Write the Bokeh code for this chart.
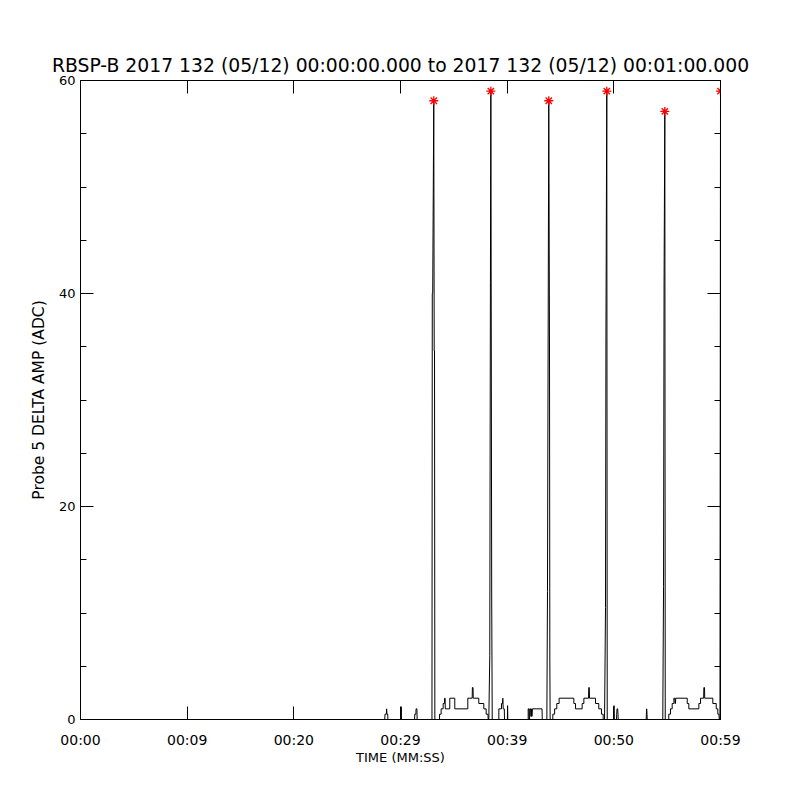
from bokeh.plotting import figure
from bokeh.models import FixedTicker, LinearAxis, Range1d
from bokeh.embed import file_html
from bokeh.resources import INLINE

# ---- data ----
title_text = "RBSP-B 2017 132 (05/12) 00:00:00.000 to 2017 132 (05/12) 00:01:00.000"
x_ticks = [0, 10, 20, 30, 40, 50, 60]
x_labels = ["00:00", "00:09", "00:20", "00:29", "00:39", "00:50", "00:59"]
y_ticks = [0, 20, 40, 60]
y_minor = [5, 10, 15, 25, 30, 35, 45, 50, 55]

# time (s) of the line vertices
times = [
    0.0, 28.52, 28.55, 28.67, 28.70, 28.73, 28.80, 28.82,
    30.05, 30.07, 30.09,
    31.32, 31.34, 31.44, 31.46, 31.54, 31.56,
    32.95, 32.98, 33.02, 33.12, 33.16, 33.19, 33.22,
    33.66, 33.66, 33.81, 33.81, 34.00, 34.00, 34.12, 34.14, 34.18, 34.20,
    34.62, 34.62, 35.09, 35.09, 36.31, 36.31, 36.72, 36.74, 36.80, 36.82,
    37.34, 37.34, 37.81, 37.81, 38.03, 38.03, 38.20, 38.22,
    38.28, 38.37, 38.43, 38.47, 38.55, 38.60,
    39.22, 39.22, 39.47, 39.47, 39.57, 39.59, 39.63, 39.73, 39.75,
    40.02, 40.04, 40.06,
    41.97, 41.97, 42.04, 42.06, 42.10, 42.12, 42.20, 42.22, 42.26, 42.28,
    42.32, 42.37, 43.27, 43.29,
    43.72, 43.78, 43.90, 43.97, 44.00, 44.03,
    44.28, 44.28, 44.45, 44.45, 44.65, 44.65, 44.87, 44.87,
    46.25, 46.25, 46.41, 46.41, 47.03, 47.03, 47.19, 47.19, 47.63, 47.65,
    47.70, 47.72, 48.28, 48.28, 48.59, 48.59, 48.84, 48.84, 49.00, 49.00,
    49.13, 49.22, 49.26, 49.34, 49.38,
    50.00, 50.02, 50.04, 50.25, 50.27, 50.30, 50.36, 50.39, 50.41,
    53.03, 53.05, 53.08, 53.11, 53.13,
    54.59, 54.66, 54.71, 54.78, 54.82,
    55.15, 55.15, 55.31, 55.31, 55.47, 55.47, 55.63, 55.63, 55.72, 55.74,
    55.78, 55.80, 56.88, 56.88, 57.03, 57.03, 57.97, 57.97, 58.13, 58.13,
    58.42, 58.44, 58.50, 58.52, 59.28, 59.28, 59.60, 59.60, 59.75, 59.75,
    59.86, 59.88, 59.95, 60.0,
]
# Probe 5 delta amplitude (ADC)
values = [
    0.0, 0.0, 0.5, 0.5, 1.0, 0.5, 0.5, 0.0,
    0.0, 1.2, 0.0,
    0.0, 0.5, 0.5, 1.0, 1.0, 0.0,
    0.0, 40.0, 40.0, 58.1, 34.6, 34.6, 0.0,
    0.0, 0.5, 0.5, 1.0, 1.0, 1.5, 1.5, 2.0, 2.0, 1.0,
    1.0, 2.0, 2.0, 1.0, 1.0, 2.0, 2.0, 3.0, 3.0, 2.0,
    2.0, 1.5, 1.5, 1.0, 1.0, 0.5, 0.5, 0.0,
    0.0, 6.0, 41.0, 59.0, 11.5, 0.0,
    0.0, 1.0, 1.0, 1.5, 1.5, 2.0, 1.0, 1.0, 0.0,
    0.0, 1.3, 0.0,
    0.0, 1.0, 1.0, 0.0, 0.0, 1.0, 1.0, 0.3, 0.3, 1.0,
    0.3, 1.0, 1.0, 0.0,
    0.0, 12.0, 58.1, 34.6, 5.5, 0.0,
    0.0, 0.5, 0.5, 1.0, 1.0, 1.5, 1.5, 2.0,
    2.0, 1.5, 1.5, 1.0, 1.0, 1.5, 1.5, 2.0, 2.0, 3.0,
    3.0, 2.0, 2.0, 1.5, 1.5, 1.0, 1.0, 0.5, 0.5, 0.0,
    0.0, 10.5, 36.0, 59.0, 0.0,
    0.0, 1.3, 0.0, 0.0, 0.5, 1.0, 1.0, 0.5, 0.0,
    0.0, 0.5, 1.0, 0.5, 0.0,
    0.0, 12.5, 41.0, 57.1, 0.0,
    0.0, 0.5, 0.5, 1.0, 1.0, 1.5, 1.5, 2.0, 2.0, 1.5,
    1.5, 2.0, 2.0, 1.5, 1.5, 1.0, 1.0, 1.5, 1.5, 2.0,
    2.0, 3.0, 3.0, 2.0, 2.0, 1.5, 1.5, 1.0, 1.0, 0.5,
    0.5, 0.0, 0.0, 59.0,
]
# peak markers
peak_times = [33.12, 38.47, 43.90, 49.34, 54.78, 60.0]
peak_values = [58.1, 59.0, 58.1, 59.0, 57.1, 59.0]

FONT = "DejaVu Sans"

p = figure(width=790, height=790, x_range=Range1d(0, 60), y_range=Range1d(0, 60),
           output_backend="svg", toolbar_location=None,
           x_axis_location=None, y_axis_location=None,
           min_border_left=80, min_border_top=80, min_border_right=70, min_border_bottom=71)
p.xgrid.visible = False
p.ygrid.visible = False
p.outline_line_color = "black"
p.outline_line_width = 1
p.background_fill_color = "white"
p.border_fill_color = "white"

p.title.text = title_text
p.title.align = "center"
p.title.text_font = FONT
p.title.text_font_size = "18.8px"
p.title.text_font_style = "normal"
p.title.text_color = "black"


def style_axis(ax, show_labels):
    ax.axis_line_color = "black"
    ax.major_tick_line_color = "black"
    ax.minor_tick_line_color = "black"
    ax.major_tick_in = 13
    ax.major_tick_out = 0
    ax.minor_tick_in = 6
    ax.minor_tick_out = 0
    ax.major_label_text_font = FONT
    ax.major_label_text_color = "black"
    ax.axis_label_text_font = FONT
    ax.axis_label_text_font_style = "normal"
    ax.axis_label_text_color = "black"
    if not show_labels:
        ax.major_label_overrides = {t: "" for t in ax.ticker.ticks}
        ax.major_label_standoff = 0


bottom = LinearAxis(ticker=FixedTicker(ticks=x_ticks, minor_ticks=[]),
                    major_label_overrides={t: l for t, l in zip(x_ticks, x_labels)},
                    axis_label="TIME (MM:SS)")
style_axis(bottom, True)
bottom.major_label_text_font_size = "14px"
bottom.major_label_standoff = 12
bottom.axis_label_text_font_size = "13px"
bottom.axis_label_standoff = -1
p.add_layout(bottom, "below")

top = LinearAxis(ticker=FixedTicker(ticks=x_ticks, minor_ticks=[]))
style_axis(top, False)
p.add_layout(top, "above")

left = LinearAxis(ticker=FixedTicker(ticks=y_ticks, minor_ticks=y_minor),
                  axis_label="Probe 5 DELTA AMP (ADC)")
style_axis(left, True)
left.major_label_text_font_size = "13px"
left.major_label_standoff = 5
left.axis_label_text_font_size = "15.5px"
left.axis_label_standoff = 8
p.add_layout(left, "left")

right = LinearAxis(ticker=FixedTicker(ticks=y_ticks, minor_ticks=y_minor))
style_axis(right, False)
p.add_layout(right, "right")

p.line(times, values, line_color="black", line_width=1)
p.scatter(peak_times, peak_values, marker="asterisk", size=9,
          line_color="red", line_width=1.3)

open("out.html", "w").write(file_html(p, INLINE))
